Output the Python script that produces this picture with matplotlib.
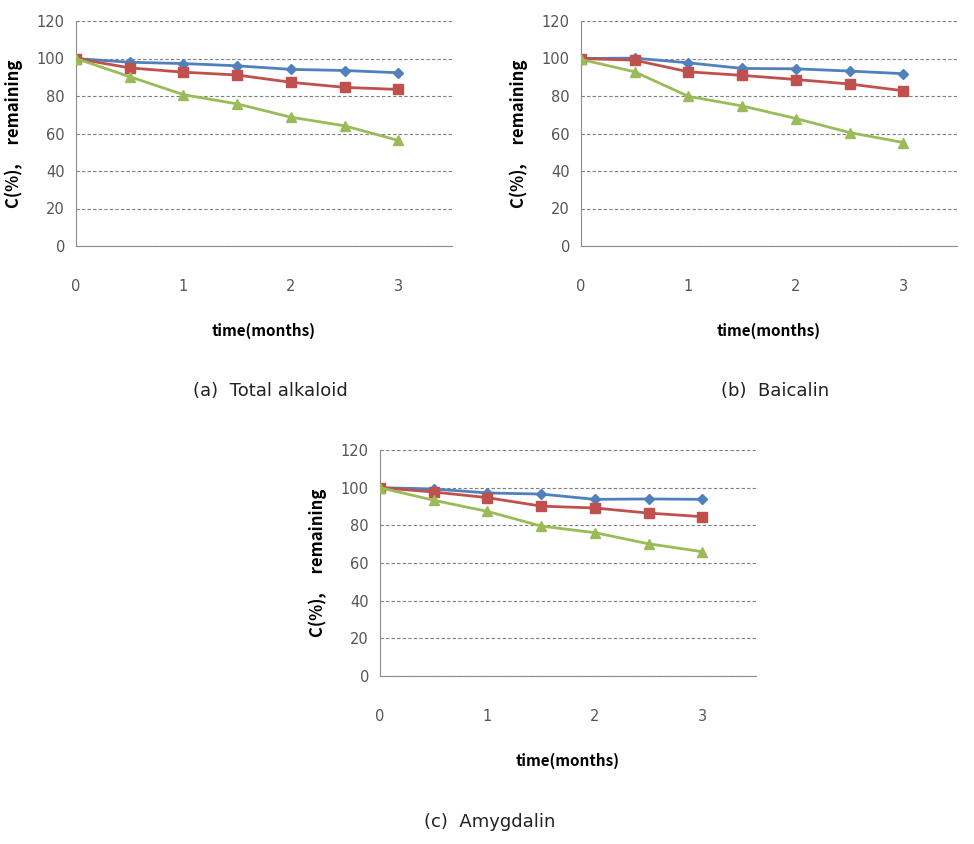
import matplotlib
matplotlib.use("Agg")
import matplotlib.pyplot as plt

# months after storage start
time_months = [0, 0.5, 1, 1.5, 2, 2.5, 3]

# (a) Total alkaloid
alk_blue  = [100, 98.0, 97.3, 96.1, 94.2, 93.6, 92.4]
alk_red   = [100, 95.0, 92.7, 91.2, 87.3, 84.6, 83.5]
alk_green = [100, 90.3, 80.7, 75.8, 68.7, 64.1, 56.3]

# (b) Baicalin
bai_blue  = [100, 100.2, 97.7, 94.7, 94.5, 93.3, 91.9]
bai_red   = [100, 99.1, 92.9, 91.0, 88.8, 86.4, 82.8]
bai_green = [99.5, 92.9, 79.8, 74.7, 68.0, 60.5, 55.2]

# (c) Amygdalin
amy_blue  = [100, 99.3, 97.2, 96.6, 93.8, 94.0, 93.8]
amy_red   = [100, 97.7, 94.7, 90.2, 89.2, 86.5, 84.6]
amy_green = [100, 93.3, 87.4, 79.6, 76.1, 70.2, 66.0]

xticks = [0, 1, 2, 3]
yticks = [0, 20, 40, 60, 80, 100, 120]

BLUE, RED, GREEN = "#4F81BD", "#C0504D", "#9BBB59"
W, H = 974, 844
LABEL_FONT = ["Noto Sans CJK KR", "DejaVu Sans"]

panels = [
    # left px, top px, right px, bottom px, series, caption, caption centre
    (76, 21, 452, 246, (alk_blue, alk_red, alk_green), "(a)  Total alkaloid", (270, 391)),
    (581, 21, 957, 246, (bai_blue, bai_red, bai_green), "(b)  Baicalin", (775, 391)),
    (380, 450, 756, 676, (amy_blue, amy_red, amy_green), "(c)  Amygdalin", (490, 822)),
]

fig = plt.figure(figsize=(W / 100, H / 100), dpi=100)

for l, t, r, b, (s_blue, s_red, s_green), caption, (cx, cy) in panels:
    ax = fig.add_axes([l / W, 1 - b / H, (r - l) / W, (b - t) / H])
    ax.plot(time_months, s_blue, color=BLUE, lw=2, marker="D", ms=5, zorder=3)
    ax.plot(time_months, s_red, color=RED, lw=2, marker="s", ms=7, zorder=3)
    ax.plot(time_months, s_green, color=GREEN, lw=2, marker="^", ms=7, zorder=3)

    ax.set_xlim(0, 3.5)
    ax.set_ylim(0, 120)
    ax.set_xticks(xticks)
    ax.set_yticks(yticks)
    ax.tick_params(length=0, colors="#555555", labelsize=10.5)
    ax.tick_params(axis="x", pad=24)
    ax.tick_params(axis="y", pad=8)
    for side in ["top", "right"]:
        ax.spines[side].set_visible(False)
    for side in ["left", "bottom"]:
        ax.spines[side].set_color("#8c8c8c")
    ax.grid(axis="y", color="#7f7f7f", ls=(0, (3, 2)), lw=0.8)
    ax.set_axisbelow(True)

    ax.set_xlabel("time(months)", fontweight="bold", fontsize=11, family=LABEL_FONT)
    ax.xaxis.set_label_coords(0.5, -0.34)
    ax.set_ylabel("C(%),     remaining", fontweight="bold", fontsize=12,
                  family=LABEL_FONT, labelpad=10)

    fig.text(cx / W, 1 - cy / H, caption, ha="center", va="center", fontsize=13,
             family="DejaVu Sans", color="#222222")

fig.savefig("out.png", dpi=100)
